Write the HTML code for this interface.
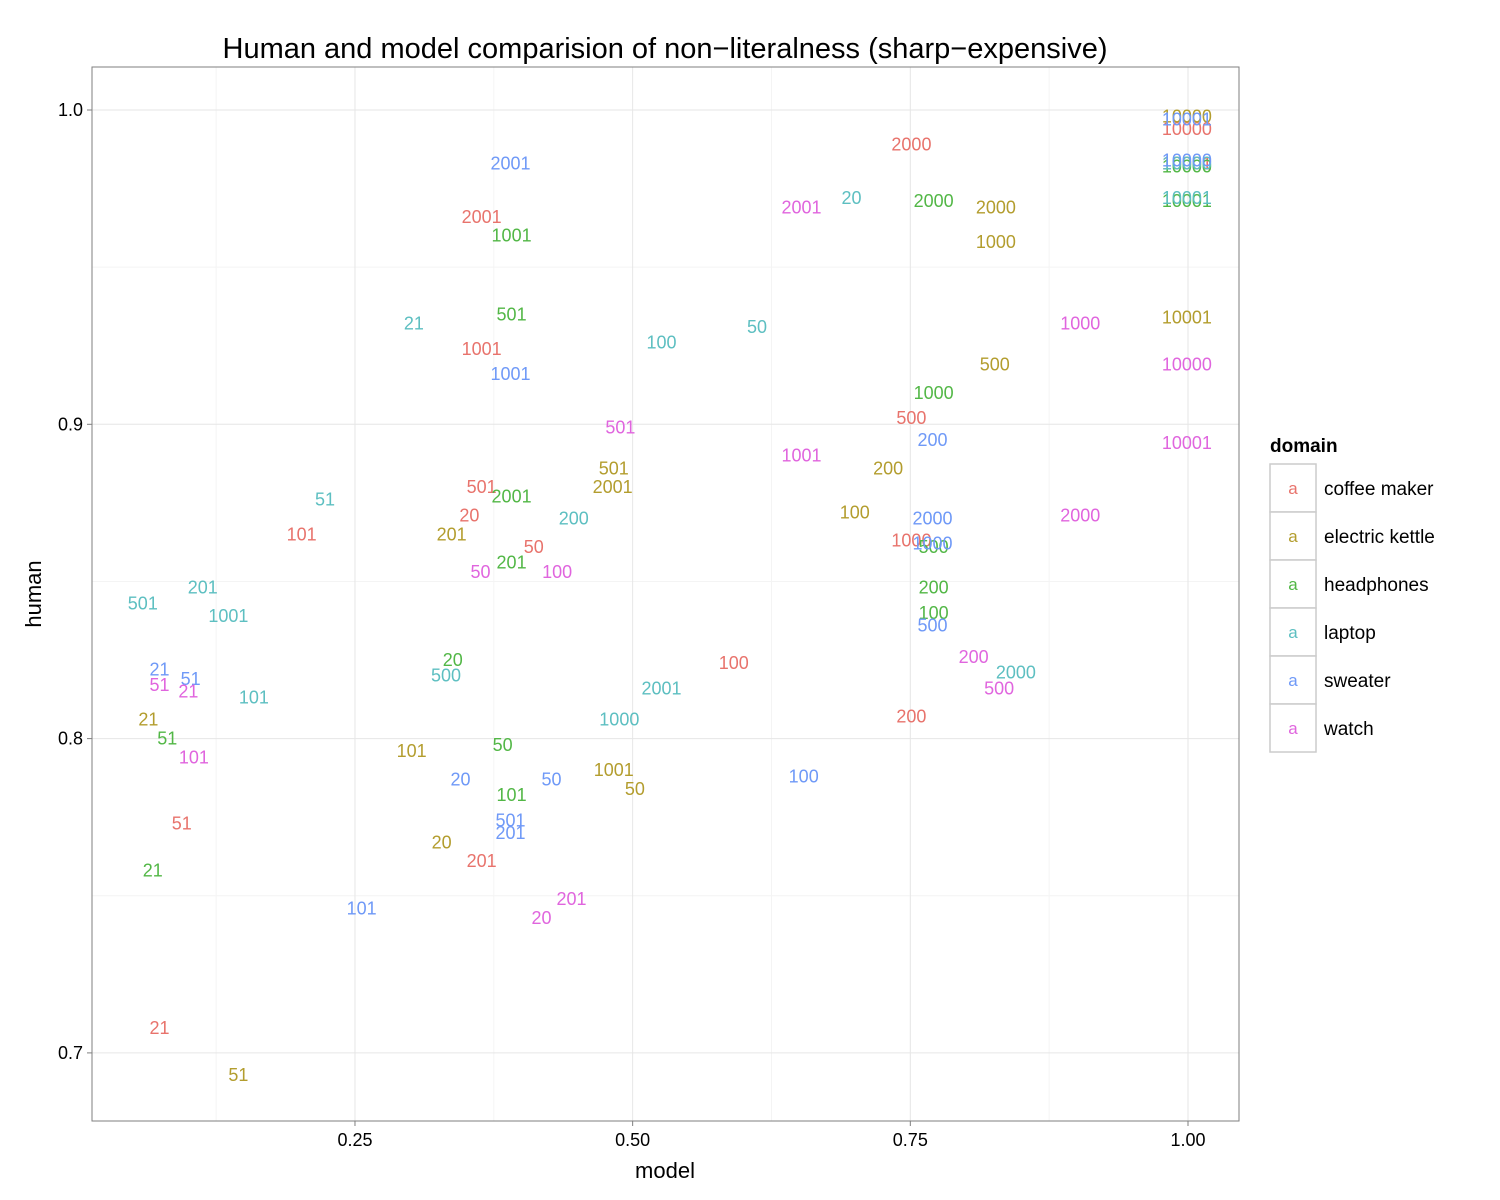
<!DOCTYPE html>
<html><head><meta charset="utf-8"><style>
body{margin:0;background:#fff;}
svg{display:block;font-family:"Liberation Sans",Arial,sans-serif;}
</style></head><body>
<svg id="chart" width="1500" height="1200"></svg>
<script>
const domains=["coffee maker","electric kettle","headphones","laptop","sweater","watch"];
const colors=["#e8736c","#b39d2e","#52b746","#5dbfc1","#6f99f7","#e065de"];
const coffeeLabels=["21","51","101","20","501","50","201","1001","2001","100","200","500","1000","2000","10000","10001"];
const coffeeX=[0.074,0.094,0.202,0.353,0.364,0.411,0.364,0.364,0.364,0.591,0.751,0.751,0.751,0.751,0.999,0.999];
const coffeeY=[0.708,0.773,0.865,0.871,0.880,0.861,0.761,0.924,0.966,0.824,0.807,0.902,0.863,0.989,0.994,0.983];
const kettleLabels=["21","51","101","20","201","501","2001","1001","50","100","200","500","1000","2000","10000","10001"];
const kettleX=[0.064,0.145,0.301,0.328,0.337,0.483,0.482,0.483,0.502,0.700,0.730,0.826,0.827,0.827,0.999,0.999];
const kettleY=[0.806,0.693,0.796,0.767,0.865,0.886,0.880,0.790,0.784,0.872,0.886,0.919,0.958,0.969,0.998,0.934];
const headLabels=["21","51","20","201","2001","501","1001","50","101","100","200","500","1000","2000","10000","10001"];
const headX=[0.068,0.081,0.338,0.391,0.391,0.391,0.391,0.383,0.391,0.771,0.771,0.771,0.771,0.771,0.999,0.999];
const headY=[0.758,0.800,0.825,0.856,0.877,0.935,0.960,0.798,0.782,0.840,0.848,0.861,0.910,0.971,0.982,0.971];
const laptopLabels=["501","201","1001","101","51","21","500","200","1000","2001","100","50","20","2000","10000","10001"];
const laptopX=[0.059,0.113,0.136,0.159,0.223,0.303,0.332,0.447,0.488,0.526,0.526,0.612,0.697,0.845,0.999,0.999];
const laptopY=[0.843,0.848,0.839,0.813,0.876,0.932,0.820,0.870,0.806,0.816,0.926,0.931,0.972,0.821,0.983,0.972];
const sweaterLabels=["21","51","101","20","501","201","1001","2001","50","100","200","500","1000","2000","10000","10001"];
const sweaterX=[0.074,0.102,0.256,0.345,0.390,0.390,0.390,0.390,0.427,0.654,0.770,0.770,0.770,0.770,0.999,0.999];
const sweaterY=[0.822,0.819,0.746,0.787,0.774,0.770,0.916,0.983,0.787,0.788,0.895,0.836,0.862,0.870,0.984,0.997];
const watchLabels=["51","21","101","50","20","201","100","501","1001","2001","200","500","1000","2000","10000","10001"];
const watchX=[0.074,0.100,0.105,0.363,0.418,0.445,0.432,0.489,0.652,0.652,0.807,0.830,0.903,0.903,0.999,0.999];
const watchY=[0.817,0.815,0.794,0.853,0.743,0.749,0.853,0.899,0.890,0.969,0.826,0.816,0.932,0.871,0.919,0.894];
const xTicks=[0.25,0.5,0.75,1.0];
const xTickLabels=["0.25","0.50","0.75","1.00"];
const yTicks=[0.7,0.8,0.9,1.0];
const yTickLabels=["0.7","0.8","0.9","1.0"];
const xMinor=[0.125,0.375,0.625,0.875];
const yMinor=[0.75,0.85,0.95];

const series=[[coffeeLabels,coffeeX,coffeeY],[kettleLabels,kettleX,kettleY],[headLabels,headX,headY],[laptopLabels,laptopX,laptopY],[sweaterLabels,sweaterX,sweaterY],[watchLabels,watchX,watchY]];
const P={l:92,t:67,r:1239,b:1121};
const sx=v=>77.3+v*1110.7;
const sy=v=>110+(1.0-v)*3143;
const svg=document.getElementById('chart');
const NS="http://www.w3.org/2000/svg";
function mk(tag,attrs,parent){const e=document.createElementNS(NS,tag);for(const k in attrs)e.setAttribute(k,attrs[k]);(parent||svg).appendChild(e);return e;}

const panel=mk('rect',{x:P.l,y:P.t,width:P.r-P.l,height:P.b-P.t,fill:'#fff'});


xMinor.forEach(v=>{const l=mk('line',{x1:sx(v),x2:sx(v),y1:P.t,y2:P.b,stroke:'#f4f4f4','stroke-width':1});

});
yMinor.forEach(v=>{const l=mk('line',{x1:P.l,x2:P.r,y1:sy(v),y2:sy(v),stroke:'#f4f4f4','stroke-width':1});

});
xTicks.forEach((v,i)=>{const l=mk('line',{x1:sx(v),x2:sx(v),y1:P.t,y2:P.b,stroke:'#e6e6e6','stroke-width':1});


const tk=mk('line',{x1:sx(v),x2:sx(v),y1:P.b,y2:P.b+5,stroke:'#7f7f7f'});


const t=mk('text',{x:sx(v),y:P.b+25,'text-anchor':'middle','font-size':18,fill:'#000'});t.textContent=xTickLabels[i];

});
yTicks.forEach((v,i)=>{const l=mk('line',{x1:P.l,x2:P.r,y1:sy(v),y2:sy(v),stroke:'#e6e6e6','stroke-width':1});


const tk=mk('line',{x1:P.l-5,x2:P.l,y1:sy(v),y2:sy(v),stroke:'#7f7f7f'});


const t=mk('text',{x:P.l-9,y:sy(v)+6,'text-anchor':'end','font-size':18,fill:'#000'});t.textContent=yTickLabels[i];

});

series.forEach((s,di)=>{const g=mk('g',{});


s[0].forEach((lab,i)=>{const t=mk('text',{x:sx(s[1][i]),y:sy(s[2][i])+6,'text-anchor':'middle','font-size':18,fill:colors[di]},g);t.textContent=lab;

});});

const border=mk('rect',{x:P.l,y:P.t,width:P.r-P.l,height:P.b-P.t,fill:'none',stroke:'#7f7f7f','stroke-width':1});



const title=mk('text',{x:665,y:58,'text-anchor':'middle','font-size':29,fill:'#000'});title.textContent="Human and model comparision of non\u2212literalness (sharp\u2212expensive)";


const xt=mk('text',{x:665,y:1178,'text-anchor':'middle','font-size':22,fill:'#000'});xt.textContent="model";


const yt=mk('text',{x:0,y:0,'text-anchor':'middle','font-size':22,fill:'#000',transform:'translate(41,594) rotate(-90)'});yt.textContent="human";



const lg=mk('g',{});


const lt=mk('text',{x:1270,y:452,'font-size':19,'font-weight':'bold',fill:'#000'},lg);lt.textContent="domain";


domains.forEach((d,i)=>{const y=464+i*48;
const e=mk('g',{},lg);


mk('rect',{x:1270,y:y,width:46,height:48,fill:'#fff',stroke:'#cccccc','stroke-width':1.5},e);
const a=mk('text',{x:1293,y:y+30,'text-anchor':'middle','font-size':17,fill:colors[i]},e);a.textContent="a";
const t=mk('text',{x:1324,y:y+31,'font-size':19,fill:'#000'},e);t.textContent=d;});
</script>
</body></html>
